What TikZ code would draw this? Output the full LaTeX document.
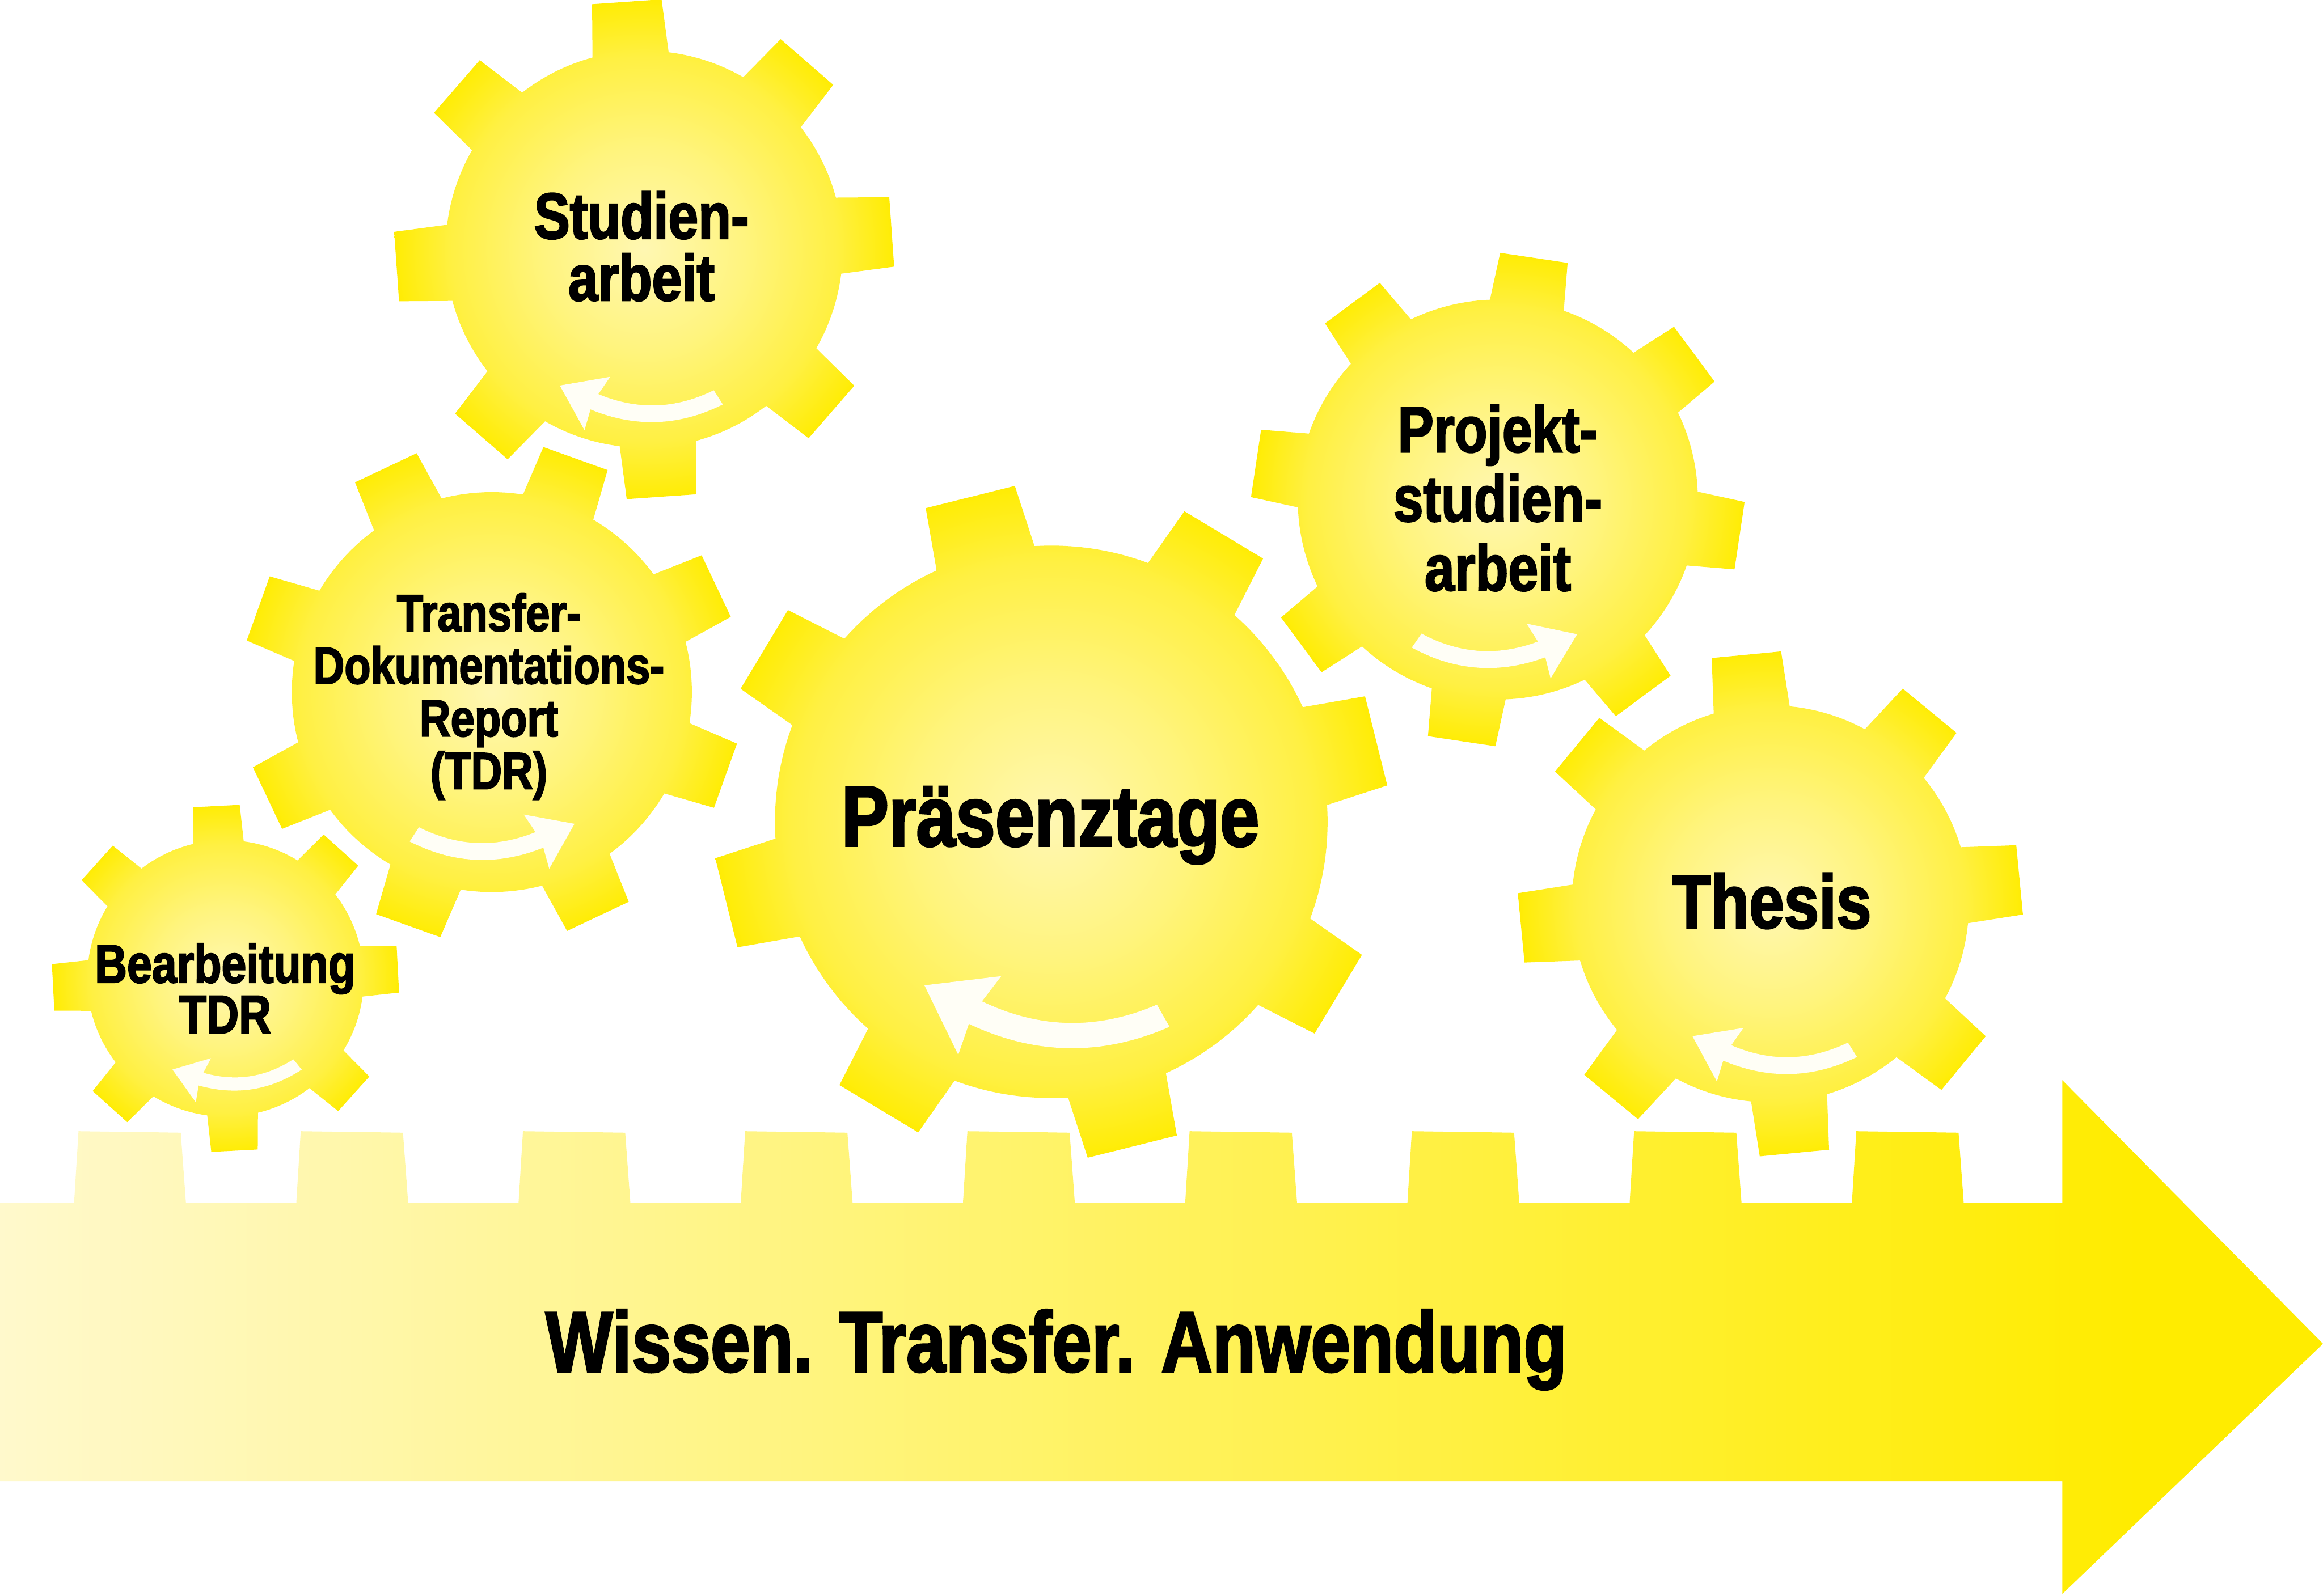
\documentclass[tikz,border=0pt]{standalone}
\usepackage{fontspec}
\setmainfont[BoldFeatures={FakeStretch=0.825,FakeBold=2.2}]{Liberation Sans}
\usepackage{tikz}
\definecolor{gearpale}{HTML}{FFF7B2}
\definecolor{gearmid}{HTML}{FFF47E}
\definecolor{gearedge}{HTML}{FFF043}
\definecolor{gearyellow}{HTML}{FFEC00}
\definecolor{turnwhite}{HTML}{FFFEF6}
\definecolor{rackpale}{HTML}{FFF9CC}
\pgfdeclareradialshading{gearglow}{\pgfpoint{0bp}{0bp}}{color(0bp)=(gearpale); color(10bp)=(gearmid); color(19bp)=(gearedge); color(25bp)=(gearyellow); color(50bp)=(gearyellow)}
\pgfdeclarehorizontalshading{rackglow}{100bp}{color(0bp)=(rackpale); color(25bp)=(rackpale); color(71bp)=(gearyellow); color(100bp)=(gearyellow)}
\tikzstyle{gearshade}=[shading=gearglow]
\tikzstyle{rackshade}=[shading=rackglow]
\tikzstyle{turnfill}=[fill=turnwhite]
\tikzstyle{geartext}=[align=center,inner sep=0pt,text=black]
% x, y, body radius, tip radius, half tooth, first tooth angle
\newcommand{\gearwheel}[6]{
  \begin{scope}[shift={(#1,#2)}]
    \clip (0,0) circle (#3)
      foreach \k in {0,...,7}{
        ([rotate=#6+45*\k]#3-4,-#5*1.1) -- ([rotate=#6+45*\k]#4,-#5)
        -- ([rotate=#6+45*\k]#4,#5) -- ([rotate=#6+45*\k]#3-4,#5*1.1) -- cycle
      };
    \shade[gearshade] (0,0) circle (#4*1.02);
  \end{scope}
}
% x, y, turn, xscale, yscale
\newcommand{\turnarrow}[5]{
  \fill[turnfill,shift={(#1,#2)},rotate=#3,xscale=#4,yscale=#5]
    (-85.6,19.6) -- (-33.8,25.8) -- (-46.8,8.8)
    .. controls (-7,-10.3) and (32,-10.3) .. (71.3,6.5)
    -- (79.8,-8.4)
    .. controls (35,-28) and (-10,-28) .. (-55.6,-6.4)
    -- (-62.8,-27.3) -- cycle;
}
\begin{document}
\begin{tikzpicture}[x=0.01cm,y=0.01cm]
  \useasboundingbox (0,0) rectangle (1568,1077.3);

  \shade[rackshade] (0,265)
    foreach \t in {50,200,...,1250}{ -- (\t,265) -- (\t+3,313.5) -- (\t+72,312.5) -- (\t+75.5,265) }
    -- (1392,265) -- (1392,348) -- (1568,170) -- (1392,1) -- (1392,77) -- (0,77) -- cycle;

  \gearwheel{434.8}{909}{134}{167.5}{23.5}{4}
  \gearwheel{1011}{740}{135}{165}{23}{-8.5}
  \gearwheel{1195}{467}{134}{169}{23.5}{5.5}
  \gearwheel{332}{610}{135}{167.5}{23}{25.3}
  \gearwheel{152.2}{416.7}{93.3}{116.5}{15.7}{3}
  \gearwheel{709.6}{522.4}{186.5}{226}{31}{14}

  \turnarrow{435}{807}{3}{0.66}{0.66}
  \turnarrow{1006.5}{641}{-5}{-0.667}{0.667}
  \turnarrow{1200}{367}{2.4}{0.667}{0.667}
  \turnarrow{330}{511.5}{-3.5}{-0.667}{0.667}
  \turnarrow{162}{352.5}{9.6}{0.52}{0.52}
  \turnarrow{709.6}{392.4}{0}{1}{1}

  \node[geartext,font=\fontsize{12.5}{11.9}\selectfont\bfseries] (studien) at (433,911) {Studien-\\arbeit};
  \node[geartext,font=\fontsize{12.5}{13.3}\selectfont\bfseries] (projekt) at (1011,741) {Projekt-\\studien-\\arbeit};
  \node[geartext,font=\fontsize{14.6}{16}\selectfont\bfseries] (thesis) at (1196,469) {Thesis};
  \node[geartext,font=\fontsize{10}{10.1}\selectfont\bfseries] (tdr) at (330,607) {Transfer-\\Dokumentations-\\Report\\(TDR)};
  \node[geartext,font=\fontsize{10.4}{9.7}\selectfont\bfseries] (bearbeitung) at (152,410) {Bearbeitung\\TDR};
  \node[geartext,font=\fontsize{16.5}{18}\selectfont\bfseries] (praesenz) at (709,520) {Präsenztage};
  \node[geartext,font=\fontsize{16.5}{18}\selectfont\bfseries] (motto) at (713,166) {Wissen. Transfer. Anwendung};
\end{tikzpicture}
\end{document}
